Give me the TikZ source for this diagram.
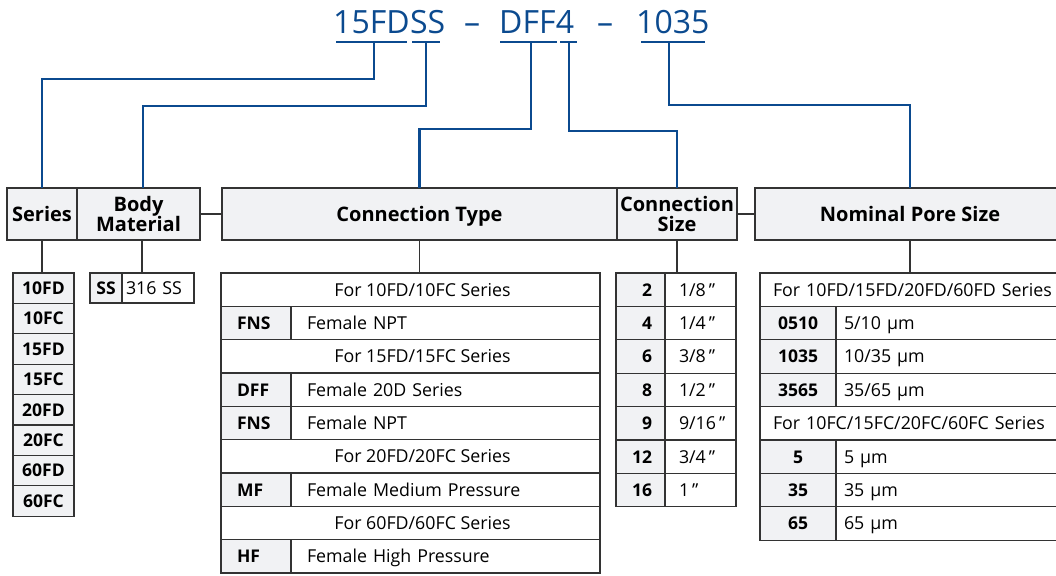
\documentclass[tikz,border=0pt]{standalone}
\usepackage{fontspec}
\setmainfont{Open Sans}
\usetikzlibrary{calc}
\definecolor{codeblue}{RGB}{11,74,143}
\definecolor{rulegray}{RGB}{51,51,51}
\definecolor{cellgray}{RGB}{241,242,244}
\newcommand\pnfont{\fontsize{32}{36}\selectfont}
\newcommand\hdfont{\bfseries\fontsize{20}{21}\selectfont}
\newcommand\txfont{\fontsize{17.8}{20}\selectfont}
\newcommand\kyfont{\bfseries\fontsize{17.5}{20}\selectfont}
\newcommand\inch{\,\char34}

\begin{document}
\begin{tikzpicture}[x=1pt,y=-1pt,
  pn/.style={font=\pnfont, text=codeblue, inner sep=0pt, anchor=base west},
  uline/.style={draw=codeblue, line width=2.4pt},
  link/.style={draw=codeblue, line width=2.4pt},
  tie/.style={draw=rulegray, line width=1.3pt},
  hdr/.style={draw=rulegray, line width=1.4pt, fill=cellgray, font=\hdfont,
    minimum height=52pt, inner sep=0pt, outer sep=0pt, anchor=north west, align=center},
  hdr1/.style={hdr, text height=14.3pt, text depth=0pt},
  cell/.style={draw=rulegray, line width=1.3pt, fill=white, inner ysep=0pt, outer sep=0pt,
    text height=12.7pt, text depth=0pt, anchor=north west, font=\txfont},
  key/.style={cell, fill=cellgray, font=\kyfont},
  sercell/.style={key, minimum width=61pt, minimum height=30.4pt, inner xsep=0pt},
  sskey/.style={key, minimum width=32pt, minimum height=30pt, inner xsep=0pt},
  ssval/.style={cell, minimum height=30pt, inner xsep=4pt, text width=64pt, align=left},
  ctfull/.style={cell, minimum width=379pt, minimum height=33.33pt, inner xsep=0pt,
    execute at begin node={\hspace*{24pt}}},
  ctkey/.style={key, minimum height=33.33pt, inner xsep=16pt, text width=38pt, align=left},
  cttxt/.style={cell, minimum height=33.33pt, inner xsep=16pt, text width=277pt, align=left},
  cskey/.style={key, minimum height=33.4pt, inner xsep=13pt, text width=23pt, align=right},
  cstxt/.style={cell, minimum height=33.4pt, inner xsep=14pt, text width=43pt, align=left},
  npfull/.style={cell, minimum height=33.4pt, inner xsep=13pt, text width=284pt, align=left},
  npkey/.style={key, minimum width=76pt, minimum height=33.4pt, inner xsep=0pt},
  nptxt/.style={cell, minimum height=33.4pt, inner xsep=8pt, text width=218pt, align=left}]
\useasboundingbox (0,0) rectangle (1056,575);
\clip (0,0) rectangle (1056,575);

% part number
\node[pn] (p15) at (333,34) {15FD};
\node[pn] (pss) at (p15.base east) {SS};
\node[pn, anchor=base] (d1) at (472,34) {–};
\node[pn] (pdff) at (499,34) {DFF};
\node[pn] (p4) at (pdff.base east) {4};
\node[pn, anchor=base] (d2) at (605,34) {–};
\node[pn] (p1035) at (636,34) {1035};
\draw[uline] (336,42) -- (407,42);
\draw[uline] (412,42) -- (440,42);
\draw[uline] (500,42) -- (557,42);
\draw[uline] (560,42) -- (577,42);
\draw[uline] (641,42) -- (705,42);
\coordinate (k15) at (374,42);
\coordinate (kss) at (426,42);
\coordinate (kdff) at (531,42);
\coordinate (k4) at (569,42);
\coordinate (k1035) at (669,42);

% headers
\node[hdr1, minimum width=70pt] (series) at (7,188) {Series};
\node[hdr, minimum width=123pt] (body) at (series.north east) {Body\\[-1.5pt]Material};
\node[hdr1, minimum width=395pt] (ctype) at (222,188) {Connection Type};
\node[hdr, minimum width=120pt] (csize) at (ctype.north east) {Connection\\[-1.5pt]Size};
\node[hdr1, minimum width=310pt] (npore) at (755,188) {Nominal Pore Size};
\draw[tie] (body.east) -- (ctype.west);
\draw[tie] (csize.east) -- (npore.west);

\draw[link] (k15) -- ++(0,37) -| (series.north);
\draw[link] (kss) -- ++(0,64) -| ([xshift=4.5pt]body.north);
\draw[link] (kdff) -- ++(0,87) -| (ctype.north);
\draw[link] (k4) -- ++(0,89) -| (csize.north);
\draw[link] (k1035) -- ++(0,63) -| (npore.north);

% series
\foreach \s [count=\i] in {10FD,10FC,15FD,15FC,20FD,20FC,60FD,60FC}
  \node[sercell] (ser\i) at (13,{273+30.4*(\i-1)}) {\s};
\draw[tie] (series.south) -- (series.south |- ser1.north);

% body material
\node[sskey] (ssk) at (90,273) {SS};
\node[ssval] (ssv) at (ssk.north east) {316 SS};
\draw[tie] ([xshift=3.5pt]body.south) -- ([xshift=3.5pt]body.south |- ssv.north);

% connection type
\node[ctfull] (ct1) at (221,273) {For 10FD/10FC Series};
\node[ctkey] (ct2k) at (ct1.south west) {FNS};
\node[cttxt] (ct2t) at (ct2k.north east) {Female NPT};
\node[ctfull] (ct3) at (ct2k.south west) {For 15FD/15FC Series};
\node[ctkey] (ct4k) at (ct3.south west) {DFF};
\node[cttxt] (ct4t) at (ct4k.north east) {Female 20D Series};
\node[ctkey] (ct5k) at (ct4k.south west) {FNS};
\node[cttxt] (ct5t) at (ct5k.north east) {Female NPT};
\node[ctfull] (ct6) at (ct5k.south west) {For 20FD/20FC Series};
\node[ctkey] (ct7k) at (ct6.south west) {MF};
\node[cttxt] (ct7t) at (ct7k.north east) {Female Medium Pressure};
\node[ctfull] (ct8) at (ct7k.south west) {For 60FD/60FC Series};
\node[ctkey] (ct9k) at (ct8.south west) {HF};
\node[cttxt] (ct9t) at (ct9k.north east) {Female High Pressure};
\draw[tie] (ctype.south) -- (ctype.south |- ct1.north);

% connection size
\node[cskey] (cs1k) at (616,273) {2};
\node[cstxt] (cs1t) at (cs1k.north east) {1/8\inch};
\node[cskey] (cs2k) at (cs1k.south west) {4};
\node[cstxt] (cs2t) at (cs2k.north east) {1/4\inch};
\node[cskey] (cs3k) at (cs2k.south west) {6};
\node[cstxt] (cs3t) at (cs3k.north east) {3/8\inch};
\node[cskey] (cs4k) at (cs3k.south west) {8};
\node[cstxt] (cs4t) at (cs4k.north east) {1/2\inch};
\node[cskey] (cs5k) at (cs4k.south west) {9};
\node[cstxt] (cs5t) at (cs5k.north east) {9/16\inch};
\node[cskey] (cs6k) at (cs5k.south west) {12};
\node[cstxt] (cs6t) at (cs6k.north east) {3/4\inch};
\node[cskey] (cs7k) at (cs6k.south west) {16};
\node[cstxt] (cs7t) at (cs7k.north east) {1\inch};
\draw[tie] (csize.south) -- (csize.south |- cs1k.north);

% nominal pore size
\node[npfull] (np1) at (760,273) {For 10FD/15FD/20FD/60FD Series};
\node[npkey] (np2k) at (np1.south west) {0510};
\node[nptxt] (np2t) at (np2k.north east) {5/10 µm};
\node[npkey] (np3k) at (np2k.south west) {1035};
\node[nptxt] (np3t) at (np3k.north east) {10/35 µm};
\node[npkey] (np4k) at (np3k.south west) {3565};
\node[nptxt] (np4t) at (np4k.north east) {35/65 µm};
\node[npfull] (np5) at (np4k.south west) {For 10FC/15FC/20FC/60FC Series};
\node[npkey] (np6k) at (np5.south west) {5};
\node[nptxt] (np6t) at (np6k.north east) {5 µm};
\node[npkey] (np7k) at (np6k.south west) {35};
\node[nptxt] (np7t) at (np7k.north east) {35 µm};
\node[npkey] (np8k) at (np7k.south west) {65};
\node[nptxt] (np8t) at (np8k.north east) {65 µm};
\draw[tie] (npore.south) -- (npore.south |- np1.north);
\end{tikzpicture}
\end{document}
